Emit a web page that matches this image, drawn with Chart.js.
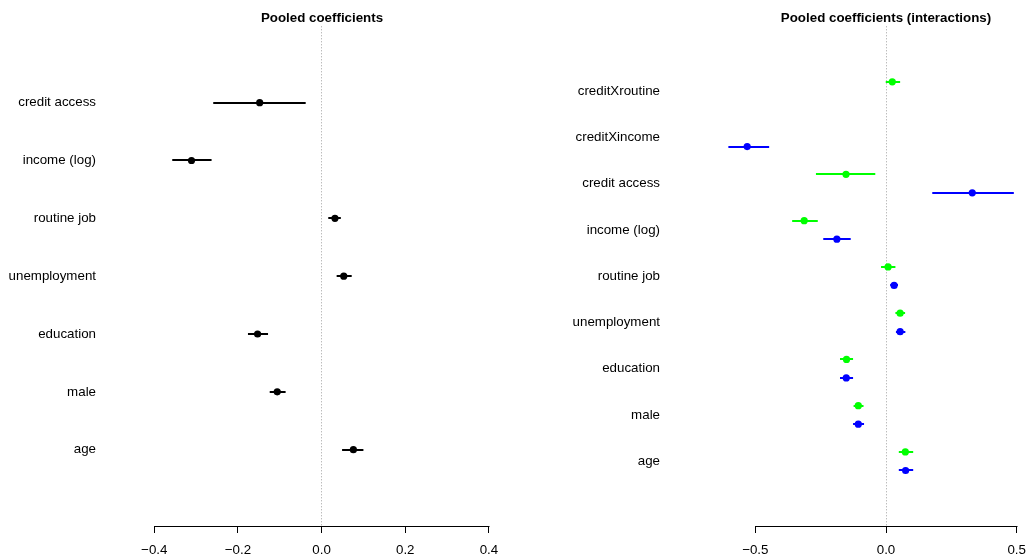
<!DOCTYPE html>
<html>
<head>
<meta charset="utf-8">
<script src="https://cdn.jsdelivr.net/npm/chart.js@4.4.1/dist/chart.umd.min.js"></script>
<style>
  html, body { margin: 0; padding: 0; background: #fff; overflow: hidden; }
  #wrap { position: relative; width: 1026px; height: 558px; }
  canvas { position: absolute; top: 0; }
</style>
</head>
<body>
<div id="wrap">
  <canvas id="pooled" width="514" height="558" style="left:0px"></canvas>
  <canvas id="pooledInter" width="537" height="558" style="left:514px"></canvas>
</div>
<script>
// ---- pooled model (top to bottom) ----
const pooled_vars = ['credit access', 'income (log)', 'routine job', 'unemployment', 'education', 'male', 'age'];
const pooled_est = [-0.148, -0.311, 0.032, 0.053, -0.153, -0.106, 0.076];
const pooled_lo  = [-0.259, -0.357, 0.016, 0.036, -0.176, -0.124, 0.049];
const pooled_hi  = [-0.038, -0.263, 0.046, 0.072, -0.128, -0.086, 0.100];

// ---- interaction models (top to bottom), null = term not in model ----
const inter_vars = ['creditXroutine', 'creditXincome', 'credit access', 'income (log)', 'routine job',
                    'unemployment', 'education', 'male', 'age'];
const green_est = [0.024, null, -0.153, -0.313, 0.008, 0.054, -0.151, -0.106, 0.074];
const green_lo  = [-0.001, null, -0.268, -0.359, -0.019, 0.036, -0.176, -0.124, 0.049];
const green_hi  = [0.054, null, -0.041, -0.261, 0.036, 0.073, -0.126, -0.086, 0.104];
const blue_est  = [null, -0.531, 0.330, -0.188, 0.031, 0.054, -0.152, -0.106, 0.075];
const blue_lo   = [null, -0.603, 0.177, -0.240, 0.016, 0.038, -0.176, -0.126, 0.049];
const blue_hi   = [null, -0.447, 0.489, -0.135, 0.046, 0.074, -0.126, -0.084, 0.104];

const pooled_ticks = [-0.4, -0.2, 0, 0.2, 0.4];
const inter_ticks = [-0.5, 0, 0.5];

const FONT = "'Liberation Sans', Arial, Helvetica, sans-serif";

// y position of each row: first row on top
function rowPos(vars) { return vars.map((v, i) => vars.length - i); }

function makePoints(est, pos, shift) {
  let pts = [];
  est.forEach((e, i) => { if (e !== null) pts.push({x: e, y: pos[i] + shift}); });
  return pts;
}
function makeBars(lo, hi, pos, shift) {
  let bars = [];
  lo.forEach((l, i) => { if (l !== null) bars.push({lo: l, hi: hi[i], y: pos[i] + shift}); });
  return bars;
}

function fmtTick(v) {
  return (v < 0 ? '\u2212' : '') + Math.abs(v).toFixed(1);
}

// confidence intervals behind the points, R-style axis line, title over the panel
const coefPlugin = {
  id: 'coefPlot',
  beforeDatasetsDraw(chart) {
    const ctx = chart.ctx, xs = chart.scales.x, ys = chart.scales.y;
    ctx.save();
    chart.data.datasets.forEach(ds => {
      ctx.strokeStyle = ds.pointBackgroundColor;
      ctx.lineWidth = 2;
      ds.bars.forEach(b => {
        const py = Math.round(ys.getPixelForValue(b.y));
        ctx.beginPath();
        ctx.moveTo(xs.getPixelForValue(b.lo), py);
        ctx.lineTo(xs.getPixelForValue(b.hi), py);
        ctx.stroke();
      });
    });
    ctx.restore();
  },
  afterDraw(chart, args, opts) {
    const ctx = chart.ctx, xs = chart.scales.x, area = chart.chartArea;
    const t = xs.ticks;
    ctx.save();
    ctx.strokeStyle = '#000';
    ctx.lineWidth = 1;
    ctx.beginPath();
    ctx.moveTo(Math.round(xs.getPixelForValue(t[0].value)) + 0.5, Math.round(area.bottom) + 0.5);
    ctx.lineTo(Math.round(xs.getPixelForValue(t[t.length - 1].value)) + 0.5, Math.round(area.bottom) + 0.5);
    ctx.stroke();
    ctx.fillStyle = '#000';
    ctx.font = 'bold 13.33px ' + FONT;
    ctx.textAlign = 'center';
    ctx.textBaseline = 'middle';
    ctx.fillText(opts.text, (area.left + area.right) / 2, 18);
    ctx.restore();
  }
};

function coefChart(id, title, vars, datasets, xTicks, xmin, xmax, ymax, axisWidth, labelPad) {
  const pos = rowPos(vars);
  return new Chart(document.getElementById(id), {
    type: 'scatter',
    data: { datasets: datasets },
    plugins: [coefPlugin],
    options: {
      responsive: false,
      animation: false,
      events: [],
      devicePixelRatio: 1,
      layout: { autoPadding: false, padding: { top: 26.3, left: 0, right: 0, bottom: 0 } },
      plugins: {
        legend: { display: false },
        tooltip: { enabled: false },
        coefPlot: { text: title }
      },
      scales: {
        x: {
          type: 'linear',
          min: xmin,
          max: xmax,
          afterBuildTicks: s => { s.ticks = xTicks.map(v => ({value: v})); },
          afterFit: s => { s.height = 32; s.paddingLeft = 0; s.paddingRight = 0; },
          grid: {
            drawOnChartArea: true,
            color: c => (c.tick && c.tick.value === 0) ? '#a0a0a0' : 'rgba(0,0,0,0)',
            lineWidth: 1,
            drawTicks: true,
            tickLength: 7,
            tickColor: '#000',
            tickWidth: 1
          },
          border: { display: false, dash: [1, 2] },
          ticks: {
            color: '#000',
            padding: 9,
            maxRotation: 0,
            autoSkip: false,
            font: { family: FONT, size: 13.33 },
            callback: v => fmtTick(v)
          }
        },
        y: {
          type: 'linear',
          min: -0.04 * ymax,
          max: 1.04 * ymax,
          afterBuildTicks: s => { s.ticks = pos.map(v => ({value: v})); },
          afterFit: s => { s.width = axisWidth; s.paddingTop = 0; s.paddingBottom = 0; },
          grid: { display: false, drawTicks: false },
          border: { display: false },
          ticks: {
            color: '#000',
            padding: labelPad,
            autoSkip: false,
            font: { family: FONT, size: 13.33 },
            callback: v => vars[pos.indexOf(v)]
          }
        }
      }
    }
  });
}

const pooledPos = rowPos(pooled_vars);
const interPos = rowPos(inter_vars);

const chartPooled = coefChart('pooled', 'Pooled coefficients', pooled_vars, [
  {
    label: 'pooled',
    data: makePoints(pooled_est, pooledPos, 0),
    bars: makeBars(pooled_lo, pooled_hi, pooledPos, 0),
    pointRadius: 3.6,
    pointBorderWidth: 0,
    pointBackgroundColor: '#000000'
  }
], pooled_ticks, -0.458, 0.46, 8, 130, 34);

const chartInter = coefChart('pooledInter', 'Pooled coefficients (interactions)', inter_vars, [
  {
    label: 'creditXroutine model',
    data: makePoints(green_est, interPos, 0.2),
    bars: makeBars(green_lo, green_hi, interPos, 0.2),
    pointRadius: 3.6,
    pointBorderWidth: 0,
    pointBackgroundColor: '#00ff00'
  },
  {
    label: 'creditXincome model',
    data: makePoints(blue_est, interPos, -0.2),
    bars: makeBars(blue_lo, blue_hi, interPos, -0.2),
    pointRadius: 3.6,
    pointBorderWidth: 0,
    pointBackgroundColor: '#0000ff'
  }
], inter_ticks, -0.6312, 0.6312, 10, 207, 61);
</script>
</body>
</html>
